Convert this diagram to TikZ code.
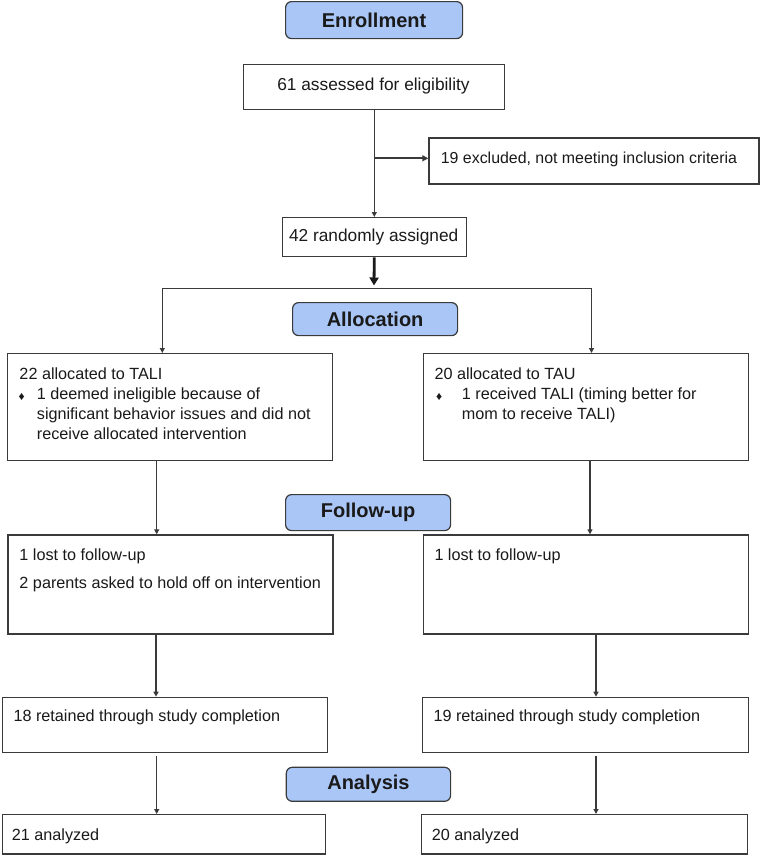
\documentclass[tikz,border=0pt]{standalone}
\usepackage{fontspec}
\setmainfont{Liberation Sans}
\usetikzlibrary{arrows.meta}
\definecolor{hdrfill}{HTML}{A9C6F7}
\definecolor{edge}{HTML}{3A3A3A}
\definecolor{ink}{HTML}{1A1A1A}
\tikzset{
  box/.style={draw=edge, line width=1.3pt, fill=white, inner sep=0pt, anchor=north west},
  hdr/.style={draw=edge, line width=1.2pt, fill=hdrfill, rounded corners=6pt, inner sep=0pt, anchor=north west,
    font=\fontsize{20}{24}\selectfont\bfseries, text=ink},
  txt/.style={anchor=base west, inner sep=0pt, text=ink, font=\fontsize{16.2}{20}\selectfont},
  ctxt/.style={anchor=base, inner sep=0pt, text=ink, font=\fontsize{17.3}{20}\selectfont},
  bul/.style={anchor=base, inner sep=0pt, text=ink, font=\fontsize{12}{14}\selectfont},
  arr/.style={draw=edge, line width=1.2pt, -{Triangle[width=5pt,length=5pt]}},
  arrmid/.style={draw=edge, line width=2pt, -{Triangle[width=6pt,length=6pt]}},
  arrbig/.style={draw=ink, line width=2.8pt, -{Triangle[width=9pt,length=8pt]}},
  ln/.style={draw=edge, line width=1.2pt},
}
\begin{document}
\begin{tikzpicture}[x=1pt,y=-1pt]
\path[use as bounding box] (0,0) rectangle (760,855);

% headers
\node[hdr, minimum width=177pt, minimum height=37pt] (enr) at (285,1) {Enrollment};
\node[hdr, minimum width=165pt, minimum height=33pt] (allo) at (292,302) {Allocation};
\node[hdr, minimum width=165pt, minimum height=36pt] (foll) at (285,494) {Follow-up};
\node[hdr, minimum width=164.3pt, minimum height=34pt] (anal) at (285.7,766.7) {Analysis};

% boxes
\node[box, minimum width=261pt, minimum height=45pt] (elig) at (243,64) {};
\node[box, minimum width=330pt, minimum height=46pt] (excl) at (428.3,137.3) {};
\node[box, minimum width=184pt, minimum height=39pt] (rand) at (281.7,217) {};
\node[box, minimum width=325pt, minimum height=107pt] (tali) at (7,353) {};
\node[box, minimum width=325pt, minimum height=107pt] (tau) at (422.7,353) {};
\node[box, minimum width=325pt, minimum height=99pt] (fl) at (7.3,534.3) {};
\node[box, minimum width=325pt, minimum height=99pt] (fr) at (422.7,534.3) {};
\node[box, minimum width=325pt, minimum height=55pt] (rl) at (1.7,696.7) {};
\node[box, minimum width=326pt, minimum height=55pt] (rr) at (421.7,696.7) {};
\node[box, minimum width=323.3pt, minimum height=39.3pt] (al) at (1.7,814) {};
\node[box, minimum width=325.7pt, minimum height=39.3pt] (ar) at (421,814) {};

% texts
\node[ctxt] (t1) at (373.5,90.7) {61 assessed for eligibility};
\node[txt, font=\fontsize{15.9}{20}\selectfont] (t2) at (440.7,163.3) {19 excluded, not meeting inclusion criteria};
\node[ctxt] (t3) at (373.7,241.7) {42 randomly assigned};

\node[txt] (t4) at (19.3,379) {22 allocated to TALI};
\node[bul] (b4) at (21.7,400) {♦};
\node[txt] (t4a) at (36.7,399.5) {1 deemed ineligible because of};
\node[txt] (t4b) at (36.7,419.3) {significant behavior issues and did not};
\node[txt] (t4c) at (36.7,439) {receive allocated intervention};

\node[txt] (t5) at (434.3,379) {20 allocated to TAU};
\node[bul] (b5) at (439.3,400) {♦};
\node[txt] (t5a) at (461.7,399.5) {1 received TALI (timing better for};
\node[txt] (t5b) at (461.7,419.3) {mom to receive TALI)};

\node[txt] (t6) at (19.3,560) {1 lost to follow-up};
\node[txt] (t6a) at (19.3,588.3) {2 parents asked to hold off on intervention};
\node[txt] (t7) at (434.3,560) {1 lost to follow-up};

\node[txt] (t8) at (13.3,721.7) {18 retained through study completion};
\node[txt] (t9) at (433.3,721.7) {19 retained through study completion};
\node[txt] (t10) at (11.7,840) {21 analyzed};
\node[txt] (t11) at (431.7,840) {20 analyzed};

% connector x positions
\coordinate (xm) at (374.3,0);
\coordinate (yex) at (0,158.3);
\coordinate (splitL) at (162.3,288.3);
\coordinate (splitR) at (591.5,288.3);
\coordinate (tipB) at (374,285.5);
\coordinate (xL1) at (156.7,0);
\coordinate (xR1) at (590,0);
\coordinate (xL2) at (156,0);
\coordinate (xR2) at (596,0);
\coordinate (xL3) at (156.7,0);
\coordinate (xR3) at (596,0);

% connectors
\draw[arr] (elig.south -| xm) -- (rand.north -| xm);
\draw[arrmid] (xm |- yex) -- (excl.west |- yex);
\draw[arrbig] (rand.south -| xm) -- (tipB);
\draw[ln] (splitL) -- (splitR);
\draw[arr] (splitL) -- (splitL |- tali.north);
\draw[arr] (splitR) -- (splitR |- tau.north);
\draw[arr] (tali.south -| xL1) -- (fl.north -| xL1);
\draw[arr] (tau.south -| xR1) -- (fr.north -| xR1);
\draw[arr] (fl.south -| xL2) -- (rl.north -| xL2);
\draw[arr] (fr.south -| xR2) -- (rr.north -| xR2);
\draw[arr, shorten <=3pt] (rl.south -| xL3) -- (al.north -| xL3);
\draw[arr, shorten <=3pt] (rr.south -| xR3) -- (ar.north -| xR3);
\end{tikzpicture}
\end{document}
